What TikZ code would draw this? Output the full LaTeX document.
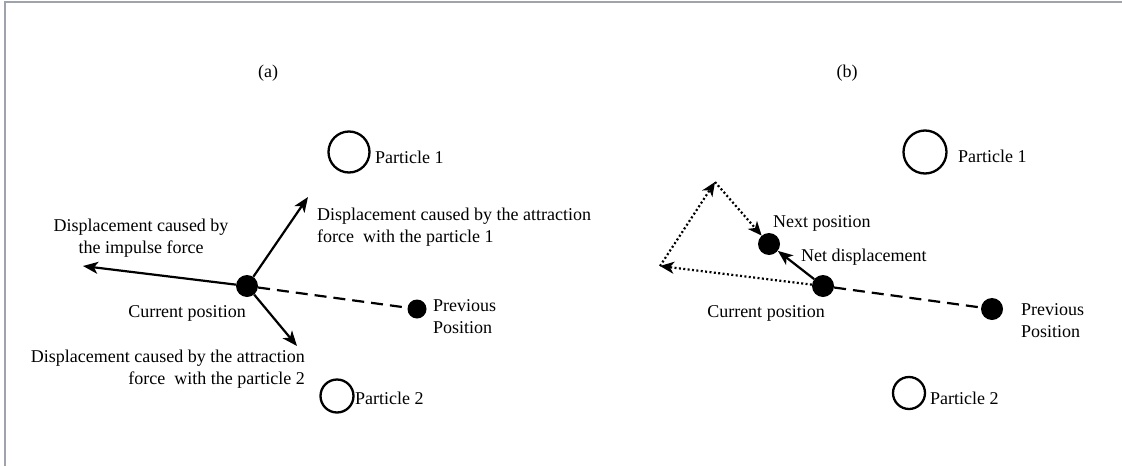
\documentclass[tikz,border=0pt]{standalone}
\usepackage{fontspec}
\setmainfont{Liberation Serif}
\usetikzlibrary{arrows.meta}
\definecolor{framegray}{RGB}{160,162,172}
\begin{document}
\begin{tikzpicture}[x=1pt,y=-1pt,
  dot/.style={shape=circle,fill,inner sep=0pt,minimum size=22pt},
  particle/.style={shape=circle,draw,line width=2.3pt,inner sep=0pt},
  lbl/.style={font=\fontsize{18}{22}\selectfont,inner sep=0pt},
  vec/.style={-{Stealth[length=15pt,width=12pt,inset=4pt]},line width=2.2pt},
  trail/.style={line width=2.2pt,dash pattern=on 12pt off 7pt},
  part/.style={-{Stealth[length=14pt,width=12pt,inset=4pt]},line width=2.2pt,dash pattern=on 2pt off 2.4pt}]
\useasboundingbox (0,0) rectangle (1122,466);
\draw[framegray,line width=2pt] (4.5,466) -- (4.5,1.5) -- (1122,1.5);

% (a)
\node(capa) at (268,73)[lbl]{(a)};
\node(p1a) at (349,152)[particle,minimum size=41pt]{};
\node(p2a) at (337,396)[particle,minimum size=33pt]{};
\node(cura) at (247,286)[dot]{};
\node(preva) at (417,309)[dot,minimum size=19pt]{};
\coordinate(impa) at (83,266);
\coordinate(atta) at (308,197);
\coordinate(attb) at (297,346);

\node at (375,157)[lbl,anchor=west]{Particle 1};
\node at (355,398)[lbl,anchor=west]{Particle 2};
\node at (187,313)[lbl]{Current position};
\node at (433,317)[lbl,anchor=west,align=left]{Previous\\Position};
\node at (141,238)[lbl,align=center]{Displacement caused by\\the impulse force};
\node at (317,227)[lbl,anchor=west,align=left]{Displacement caused by the attraction\\force~ with the particle 1};
\node at (305,369)[lbl,anchor=east,align=right]{Displacement caused by the attraction\\force~ with the particle 2};

\path [vec]
  (cura)   edge   (impa)
  (cura)   edge   (atta)
  (cura)   edge   (attb);
\draw[trail] (cura) -- (preva);

% (b)
\node(capb) at (847,73)[lbl]{(b)};
\node(p1b) at (925,152)[particle,minimum size=43pt]{};
\node(p2b) at (909,393)[particle,minimum size=32pt]{};
\node(curb) at (823,286)[dot]{};
\node(nextb) at (769,244)[dot]{};
\node(prevb) at (992,309)[dot]{};
\coordinate(impb) at (660,266);
\coordinate(topb) at (715,182);

\node at (958,156)[lbl,anchor=west]{Particle 1};
\node at (930,398)[lbl,anchor=west]{Particle 2};
\node at (766,313)[lbl]{Current position};
\node at (1021,321)[lbl,anchor=west,align=left]{Previous\\Position};
\node at (773,223)[lbl,anchor=west]{Next position};
\node at (801,257)[lbl,anchor=west]{Net displacement};

\path [part]
  (curb)   edge   (impb)
  (impb)   edge   (topb)
  (topb)   edge   (nextb);
\path [vec]
  (curb)   edge   (nextb);
\draw[trail] (curb) -- (prevb);

\end{tikzpicture}
\end{document}
